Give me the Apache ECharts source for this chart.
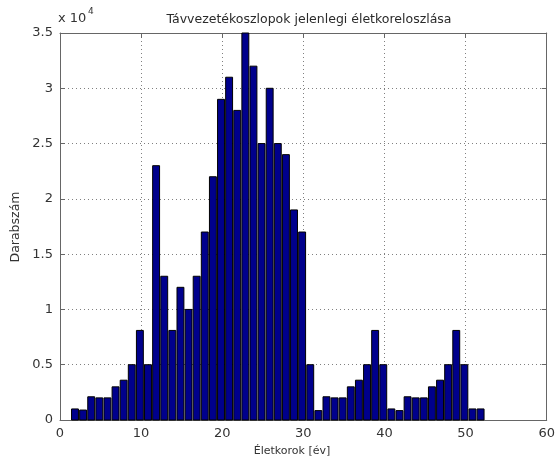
<!DOCTYPE html>
<html>
<head>
<meta charset="utf-8">
<script src="https://cdn.jsdelivr.net/npm/echarts@6/dist/echarts.min.js"></script>
<style>html,body{margin:0;padding:0;background:#fff;}#c{width:558px;height:461px;}</style>
</head>
<body>
<div id="c"></div>
<script>
// Bin centres (age in years) and counts per bin
const binCenters = [1.86,2.86,3.86,4.86,5.86,6.86,7.86,8.86,9.86,10.86,
  11.86,12.86,13.86,14.86,15.86,16.86,17.86,18.86,19.86,20.86,
  21.86,22.86,23.86,24.86,25.86,26.86,27.86,28.86,29.86,30.86,
  31.86,32.86,33.86,34.86,35.86,36.86,37.86,38.86,39.86,40.86,
  41.86,42.86,43.86,44.86,45.86,46.86,47.86,48.86,49.86,50.86,51.86];
const counts = [1000,900,2100,2000,2000,3000,3600,5000,8100,5000,
  23000,13000,8100,12000,10000,13000,17000,22000,29000,31000,
  28000,35000,32000,25000,30000,25000,24000,19000,17000,5000,
  850,2100,2000,2000,3000,3600,5000,8100,5000,1000,
  850,2100,2000,2000,3000,3600,5000,8100,5000,1000,1000];
const binWidth = 1;
const xTicks = [0,10,20,30,40,50,60];
const yTicks = [0,5000,10000,15000,20000,25000,30000,35000];

const titleText = 'Távvezetékoszlopok jelenlegi életkoreloszlása';
const xLabel = 'Életkorok [év]';
const yLabel = 'Darabszám';

const data = binCenters.map((c,i)=>[c, counts[i]]);
const chart = echarts.init(document.getElementById('c'), null, {renderer:'canvas'});
const gridLine = {show:true, lineStyle:{color:'#808080', type:[1,3], width:1}};
const font = 'DejaVu Sans';
chart.setOption({
  animation:false,
  backgroundColor:'#fff',
  grid:{left:60, right:8, top:33, bottom:41, containLabel:false},
  title:{text:titleText, left:304, top:8, textAlign:'center',
    textStyle:{fontFamily:font, fontSize:12.5, fontWeight:'normal', color:'#2a2a2a'}},
  xAxis:[{type:'value', min:0, max:60, interval:10, position:'bottom',
    axisLine:{show:true, onZero:false, lineStyle:{color:'#666'}},
    axisTick:{show:true, inside:true, length:5, lineStyle:{color:'#666'}},
    axisLabel:{fontFamily:font, fontSize:13, color:'#333', margin:7},
    splitLine:gridLine},
    {type:'value', min:0, max:60, interval:10, position:'top',
    axisLine:{show:true, onZero:false, lineStyle:{color:'#666'}},
    axisTick:{show:true, inside:true, length:5, lineStyle:{color:'#666'}},
    axisLabel:{show:false}, splitLine:{show:false}}],
  yAxis:[{type:'value', min:0, max:35000, interval:5000, position:'left',
    axisLine:{show:true, onZero:false, lineStyle:{color:'#666'}},
    axisTick:{show:true, inside:true, length:5, lineStyle:{color:'#666'}},
    axisLabel:{fontFamily:font, fontSize:13, color:'#333', margin:7,
      formatter:v=>String(v/10000)},
    splitLine:gridLine},
    {type:'value', min:0, max:35000, interval:5000, position:'right',
    axisLine:{show:true, onZero:false, lineStyle:{color:'#666'}},
    axisTick:{show:true, inside:true, length:5, lineStyle:{color:'#666'}},
    axisLabel:{show:false}, splitLine:{show:false}}],
  graphic:[
    {type:'text', left:58, top:12, style:{text:'x 10', fontFamily:font, fontSize:13, fill:'#333'}},
    {type:'text', left:88, top:7, style:{text:'4', fontFamily:font, fontSize:9, fill:'#333'}},
    {type:'text', x:292, y:451, style:{text:xLabel, fontFamily:font, fontSize:11, fill:'#333', align:'center', verticalAlign:'middle'}},
    {type:'text', x:16, y:227, rotation:Math.PI/2, style:{text:yLabel, fontFamily:font, fontSize:12.5, fill:'#333', align:'center', verticalAlign:'middle'}}
  ],
  series:[{type:'custom', xAxisIndex:0, yAxisIndex:0, data:data,
    encode:{x:0, y:1},
    renderItem:function(params, api){
      const x = api.value(0), y = api.value(1);
      const p0 = api.coord([x - binWidth/2, y]);
      const p1 = api.coord([x + binWidth/2, 0]);
      return {type:'rect',
        shape:{x:p0[0]+0.5, y:p0[1], width:p1[0]-p0[0]-1.2, height:p1[1]-p0[1]},
        style:{fill:'#00008c', stroke:'#000', lineWidth:1}};
    }}]
});
</script>
</body>
</html>
